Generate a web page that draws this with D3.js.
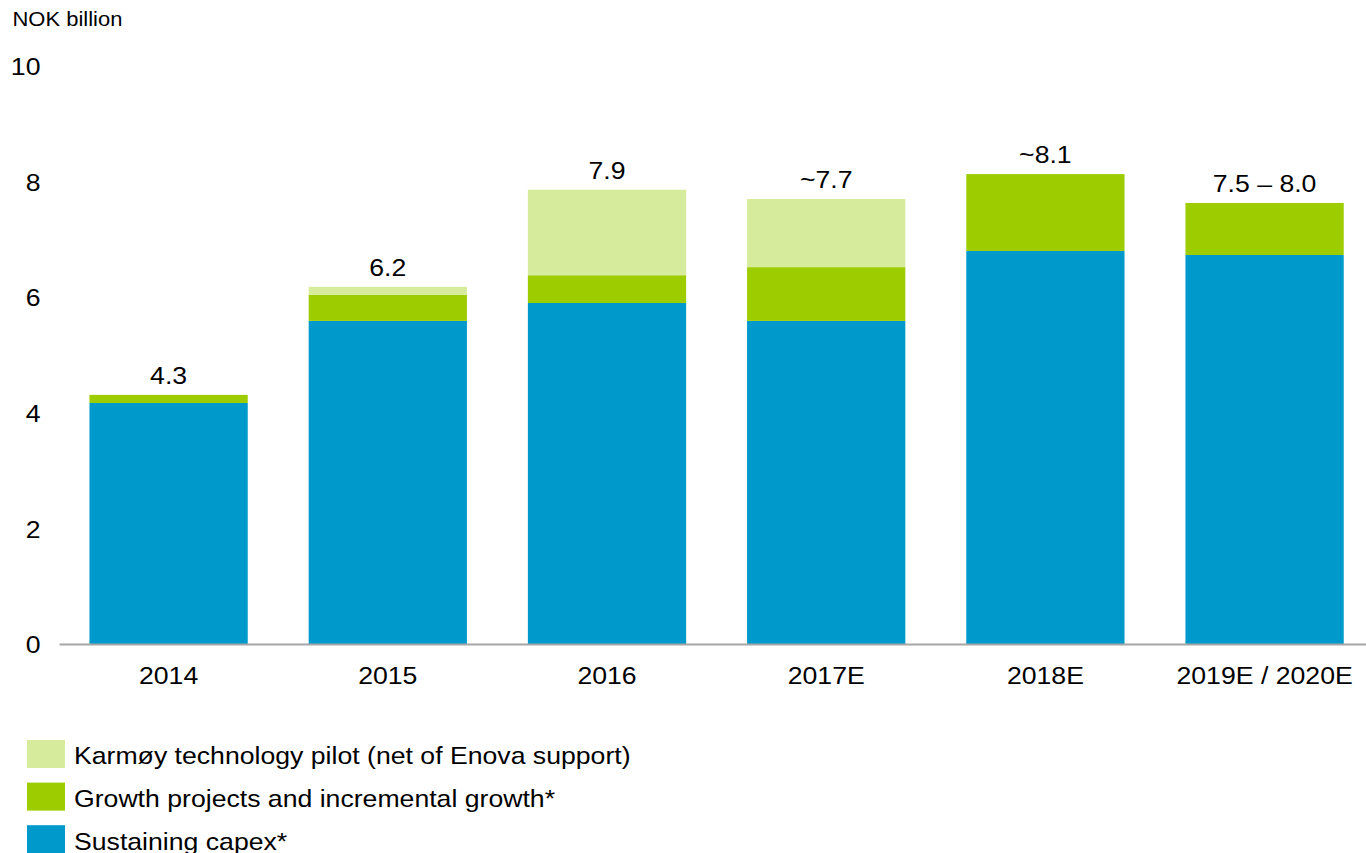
<!DOCTYPE html>
<html>
<head>
<meta charset="utf-8">
<script src="https://cdn.jsdelivr.net/npm/d3@7"></script>
<style>
  html, body { margin: 0; padding: 0; background: #fff; }
  svg { display: block; }
  text { font-family: "Liberation Sans", Arial, Helvetica, sans-serif; fill: #000; }
</style>
</head>
<body>
<svg id="chart" width="1366" height="853"></svg>
<script>
// Capex by year, NOK billion
const categories = ["2014", "2015", "2016", "2017E", "2018E", "2019E / 2020E"];
const sustaining = [4.17, 5.59, 5.90, 5.59, 6.80, 6.73];
const growth     = [0.14, 0.45, 0.48, 0.93, 1.33, 0.90];
const karmoy     = [0.00, 0.14, 1.48, 1.18, 0.00, 0.00];
const totalLabels = ["4.3", "6.2", "7.9", "~7.7", "~8.1", "7.5 \u2013 8.0"];
const yTicks = [0, 2, 4, 6, 8, 10];

const seriesKeys = ["sustaining", "growth", "karmoy"];
const seriesNames = {
  karmoy: "Karmøy technology pilot (net of Enova support)",
  growth: "Growth projects and incremental growth*",
  sustaining: "Sustaining capex*"
};
const colors = { sustaining: "#0099cc", growth: "#9dcc00", karmoy: "#d6eb9c" };

const SX = 1.11;          // horizontal text stretch
const FS = 24;            // main font size

const svg = d3.select("#chart");

const rows = categories.map((c, i) => ({
  category: c,
  sustaining: sustaining[i],
  growth: growth[i],
  karmoy: karmoy[i],
  label: totalLabels[i]
}));

const x = d3.scaleBand()
  .domain(categories)
  .range([59, 59 + 6 * 219.2])
  .paddingInner(0.278)
  .paddingOuter(0.139);

const y = d3.scaleLinear().domain([0, 10]).range([644, 66]);

// stacked bars
const stacked = d3.stack().keys(seriesKeys)(rows);
svg.append("g")
  .selectAll("g")
  .data(stacked)
  .join("g")
  .attr("fill", d => colors[d.key])
  .selectAll("rect")
  .data(d => d)
  .join("rect")
  .attr("x", d => x(d.data.category))
  .attr("width", x.bandwidth())
  .attr("y", d => y(d[1]))
  .attr("height", d => y(d[0]) - y(d[1]));

// total labels above each bar
svg.append("g")
  .selectAll("g")
  .data(rows)
  .join("g")
  .attr("transform", d => {
    const tot = d.sustaining + d.growth + d.karmoy;
    return `translate(${x(d.category) + x.bandwidth() / 2},${y(tot) - 11}) scale(${SX},1)`;
  })
  .append("text")
  .attr("text-anchor", "middle")
  .style("font-size", FS + "px")
  .text(d => d.label);

// y axis
const yAxis = svg.append("g")
  .attr("transform", "translate(40.5,0)")
  .call(d3.axisLeft(y).tickValues(yTicks).tickSize(0).tickPadding(0).tickFormat(d3.format("d")));
yAxis.select(".domain").remove();
yAxis.selectAll("text")
  .attr("x", 0)
  .attr("dy", null)
  .attr("y", 8.6)
  .attr("transform", `scale(${SX},1)`)
  .style("font-size", FS + "px")
  .style("font-family", "'Liberation Sans', Arial, sans-serif")
  .attr("fill", "#000");

// x axis
const xAxis = svg.append("g")
  .attr("transform", "translate(0,644)")
  .call(d3.axisBottom(x).tickSize(0).tickSizeOuter(0).tickPadding(0));
xAxis.select(".domain")
  .attr("stroke", "#a6a6a6")
  .attr("stroke-width", 2);
xAxis.selectAll("text")
  .attr("y", 40.5)
  .attr("dy", null)
  .attr("transform", `scale(${SX},1)`)
  .style("font-size", FS + "px")
  .style("font-family", "'Liberation Sans', Arial, sans-serif")
  .attr("fill", "#000");

// unit label
svg.append("g")
  .attr("transform", `translate(12.5,26) scale(${SX},1)`)
  .append("text")
  .style("font-size", "19.8px")
  .text("NOK billion");

// legend
const legendOrder = ["karmoy", "growth", "sustaining"];
const legend = svg.append("g")
  .selectAll("g")
  .data(legendOrder)
  .join("g")
  .attr("transform", (d, i) => `translate(0,${764.3 + i * 42.6})`);
legend.append("rect")
  .attr("x", 27)
  .attr("y", -24.3)
  .attr("width", 38)
  .attr("height", 28)
  .attr("fill", d => colors[d]);
legend.append("g")
  .attr("transform", `translate(74,0) scale(${SX},1)`)
  .append("text")
  .style("font-size", FS + "px")
  .text(d => seriesNames[d]);
</script>
</body>
</html>
